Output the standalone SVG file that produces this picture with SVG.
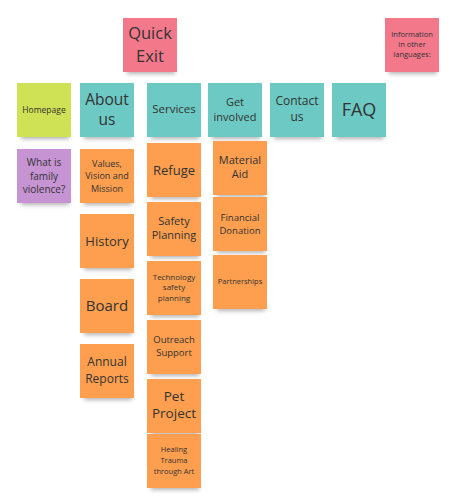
<svg xmlns="http://www.w3.org/2000/svg" width="456" height="500" viewBox="0 0 456 500">
<defs>
<filter id="blur" x="-20%" y="-100%" width="140%" height="300%"><feGaussianBlur stdDeviation="2"/></filter>
<style>
.sh{fill:#444;opacity:0.4;filter:url(#blur)}
.n{stroke:none}
.pink{fill:#f2788a}
.lime{fill:#cfe154}
.teal{fill:#6dc9c3}
.purple{fill:#c693d3}
.orange{fill:#fd9f4e}
text{font-family:"Open Sans","Noto Sans",sans-serif;fill:#333;text-anchor:middle}
</style>
</defs>
<rect width="456" height="500" fill="#fff"/>
<g id="quick-exit"><rect class="sh" x="127" y="64" width="48" height="10"/><rect class="n pink" x="123" y="18" width="54" height="54"/><text font-size="16.5"><tspan x="150" y="39">Quick</tspan><tspan x="150" y="61.5">Exit</tspan></text></g>
<g id="other-languages"><rect class="sh" x="389" y="64" width="48" height="10"/><rect class="n pink" x="385" y="18" width="54" height="54"/><text font-size="7.5"><tspan x="412" y="37">Information</tspan><tspan x="412" y="47">in other</tspan><tspan x="412" y="57">languages:</tspan></text></g>
<g id="homepage"><rect class="sh" x="21" y="129" width="48" height="10"/><rect class="n lime" x="17" y="83" width="54" height="54"/><text x="44" y="113" font-size="8.5">Homepage</text></g>
<g id="about-us"><rect class="sh" x="84" y="129" width="48" height="10"/><rect class="n teal" x="80" y="83" width="54" height="54"/><text font-size="15.5"><tspan x="107" y="104.5">About</tspan><tspan x="107" y="125">us</tspan></text></g>
<g id="services"><rect class="sh" x="151" y="129" width="48" height="10"/><rect class="n teal" x="147" y="83" width="54" height="54"/><text x="174" y="113" font-size="11.5">Services</text></g>
<g id="get-involved"><rect class="sh" x="212" y="129" width="48" height="10"/><rect class="n teal" x="208" y="83" width="54" height="54"/><text font-size="11"><tspan x="235" y="106">Get</tspan><tspan x="235" y="121">involved</tspan></text></g>
<g id="contact-us"><rect class="sh" x="274" y="129" width="48" height="10"/><rect class="n teal" x="270" y="83" width="54" height="54"/><text font-size="12"><tspan x="297" y="105">Contact</tspan><tspan x="297" y="121">us</tspan></text></g>
<g id="faq"><rect class="sh" x="336" y="129" width="48" height="10"/><rect class="n teal" x="332" y="83" width="54" height="54"/><text x="359" y="116" font-size="18">FAQ</text></g>
<g id="family-violence"><rect class="sh" x="21" y="195" width="48" height="10"/><rect class="n purple" x="17" y="149" width="54" height="54"/><text font-size="10"><tspan x="44" y="166">What is</tspan><tspan x="44" y="179.5">family</tspan><tspan x="44" y="193">violence?</tspan></text></g>
<g id="values"><rect class="sh" x="84" y="195" width="48" height="10"/><rect class="n orange" x="80" y="149" width="54" height="54"/><text font-size="9"><tspan x="107" y="166.5">Values,</tspan><tspan x="107" y="179">Vision and</tspan><tspan x="107" y="191.5">Mission</tspan></text></g>
<g id="history"><rect class="sh" x="84" y="260" width="48" height="10"/><rect class="n orange" x="80" y="214" width="54" height="54"/><text x="107" y="245.5" font-size="13">History</text></g>
<g id="board"><rect class="sh" x="84" y="325" width="48" height="10"/><rect class="n orange" x="80" y="279" width="54" height="54"/><text x="107" y="311" font-size="15">Board</text></g>
<g id="annual-reports"><rect class="sh" x="84" y="390" width="48" height="10"/><rect class="n orange" x="80" y="344" width="54" height="54"/><text font-size="12"><tspan x="107" y="366">Annual</tspan><tspan x="107" y="383">Reports</tspan></text></g>
<g id="refuge"><rect class="sh" x="151" y="189" width="48" height="10"/><rect class="n orange" x="147" y="143" width="54" height="54"/><text x="174" y="174.5" font-size="13">Refuge</text></g>
<g id="safety-planning"><rect class="sh" x="151" y="248" width="48" height="10"/><rect class="n orange" x="147" y="202" width="54" height="54"/><text font-size="11"><tspan x="174" y="225">Safety</tspan><tspan x="174" y="239">Planning</tspan></text></g>
<g id="tech-safety"><rect class="sh" x="151" y="307" width="48" height="10"/><rect class="n orange" x="147" y="261" width="54" height="54"/><text font-size="8"><tspan x="174" y="279.5">Technology</tspan><tspan x="174" y="290">safety</tspan><tspan x="174" y="300.5">planning</tspan></text></g>
<g id="outreach"><rect class="sh" x="151" y="366" width="48" height="10"/><rect class="n orange" x="147" y="320" width="54" height="54"/><text font-size="9.5"><tspan x="174" y="343">Outreach</tspan><tspan x="174" y="356">Support</tspan></text></g>
<g id="pet-project"><rect class="sh" x="151" y="425" width="48" height="10"/><rect class="n orange" x="147" y="379" width="54" height="54"/><text font-size="13.5"><tspan x="174" y="401">Pet</tspan><tspan x="174" y="418">Project</tspan></text></g>
<g id="healing"><rect class="sh" x="151" y="480" width="48" height="10"/><rect class="n orange" x="147" y="434" width="54" height="54"/><text font-size="7.5"><tspan x="174" y="452">Healing</tspan><tspan x="174" y="463">Trauma</tspan><tspan x="174" y="474">through Art</tspan></text></g>
<g id="material-aid"><rect class="sh" x="217" y="187" width="48" height="10"/><rect class="n orange" x="213" y="141" width="54" height="54"/><text font-size="11"><tspan x="240" y="164">Material</tspan><tspan x="240" y="178">Aid</tspan></text></g>
<g id="financial-donation"><rect class="sh" x="217" y="243" width="48" height="10"/><rect class="n orange" x="213" y="197" width="54" height="54"/><text font-size="9.5"><tspan x="240" y="221">Financial</tspan><tspan x="240" y="234">Donation</tspan></text></g>
<g id="partnerships"><rect class="sh" x="217" y="301" width="48" height="10"/><rect class="n orange" x="213" y="255" width="54" height="54"/><text x="240" y="284" font-size="7.5">Partnerships</text></g>
<g id="connectors"/>
</svg>
